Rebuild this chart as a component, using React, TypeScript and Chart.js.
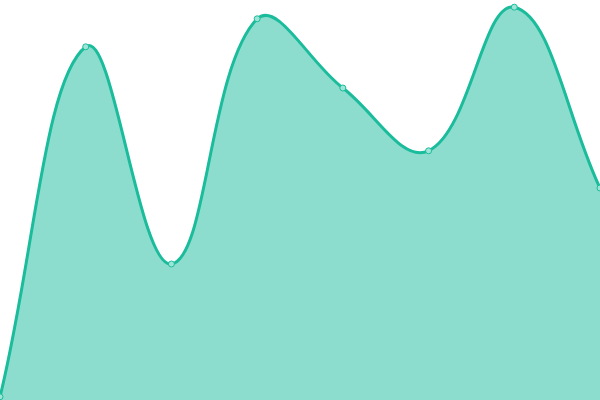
import { useEffect, useRef } from 'react'
import Chart from 'chart.js/auto'

const labels = ['A', 'B', 'C', 'D', 'E', 'F', 'G', 'H']
const values = [0.8, 88.3, 34, 95.3, 78, 62.3, 98.2, 53]

export default function App() {
  const canvasRef = useRef<HTMLCanvasElement | null>(null)
  const chartRef = useRef<any>(null)

  useEffect(() => {
    document.body.style.margin = '0'
    const ctx = canvasRef.current?.getContext('2d')
    if (!ctx) return
    if (chartRef.current) chartRef.current.destroy()

    chartRef.current = new Chart(ctx, {
      type: 'line',
      data: {
        labels,
        datasets: [{
          data: values,
          borderColor: '#1abc9c',
          backgroundColor: 'rgba(26, 188, 156, 0.5)',
          borderWidth: 3,
          fill: true,
          tension: 0.4,
          pointRadius: 3,
          pointBorderWidth: 1,
          pointBackgroundColor: '#9fe5d7',
          pointBorderColor: '#1abc9c'
        }]
      },
      options: {
        animation: false,
        responsive: true,
        maintainAspectRatio: false,
        layout: { padding: 0, autoPadding: false },
        plugins: { legend: { display: false }, tooltip: { enabled: false } },
        scales: {
          x: { display: false },
          y: { display: false, min: 0, max: 100 }
        }
      }
    })

    return () => chartRef.current?.destroy()
  }, [])

  return (
    <div style={{ position: 'fixed', left: 0, top: 0, width: 600, height: 400 }}>
      <canvas ref={canvasRef} />
    </div>
  )
}
